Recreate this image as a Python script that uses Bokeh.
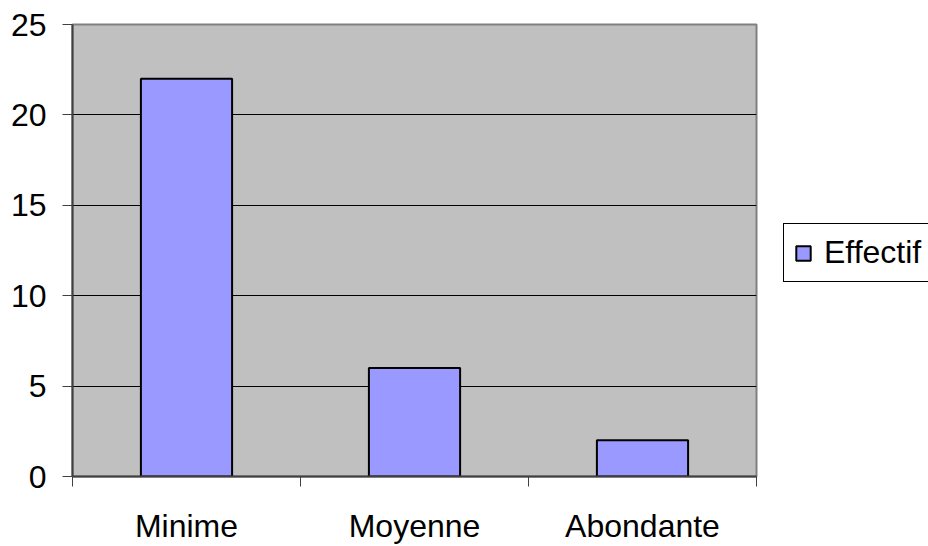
import math

from bokeh.plotting import figure
from bokeh.layouts import row
from bokeh.models import (ColumnDataSource, Range1d, FixedTicker, Legend, LegendItem)
from bokeh.embed import file_html
from bokeh.resources import INLINE

# Data
categories = ["Minime", "Moyenne", "Abondante"]
effectif = [22, 6, 2]
y_ticks = [0, 5, 10, 15, 20, 25]
series_name = "Effectif"

FONT = "Liberation Sans"
FONT_SIZE = "32px"
BAR_FILL = "#9999FF"

# category i sits in the slot [i, i+1]; bars are centred in their slot
centres = [i + 0.5 for i in range(len(categories))]
source = ColumnDataSource(dict(x=centres, top=effectif, cat=categories))

p = figure(width=772, height=546, output_backend="svg", toolbar_location=None,
           x_range=Range1d(0, len(categories)), y_range=Range1d(0, 25))
p.min_border_left = 72
p.min_border_right = 16
p.min_border_top = 24
p.min_border_bottom = 68
p.border_fill_color = "white"
p.background_fill_color = "#C0C0C0"
p.outline_line_color = "#808080"
p.outline_line_width = 2

bars = p.vbar(x="x", top="top", width=0.4, source=source,
              fill_color=BAR_FILL, line_color="black", line_width=2)

# Y axis
p.yaxis.ticker = FixedTicker(ticks=y_ticks)
p.yaxis.axis_line_color = "#404040"
p.yaxis.axis_line_width = 2
p.yaxis.major_tick_line_color = "#404040"
p.yaxis.major_tick_out = 10
p.yaxis.major_tick_in = 0
p.yaxis.minor_tick_line_color = None
p.yaxis.major_label_text_font = FONT
p.yaxis.major_label_text_font_size = FONT_SIZE
p.yaxis.major_label_text_color = "black"
p.yaxis.major_label_standoff = 16

# X axis: labels at slot centres, tick marks at slot boundaries
p.xaxis.ticker = FixedTicker(ticks=centres,
                             minor_ticks=list(range(len(categories) + 1)))
p.xaxis.major_label_overrides = {c: lab for c, lab in zip(centres, categories)}
p.xaxis.axis_line_color = "#404040"
p.xaxis.axis_line_width = 2
p.xaxis.major_tick_line_color = None
p.xaxis.minor_tick_line_color = "#404040"
p.xaxis.minor_tick_out = 10
p.xaxis.minor_tick_in = 0
p.xaxis.major_label_text_font = FONT
p.xaxis.major_label_text_font_size = FONT_SIZE
p.xaxis.major_label_text_color = "black"
p.xaxis.major_label_standoff = 21

# Grid
p.xgrid.grid_line_color = None
p.ygrid.ticker = FixedTicker(ticks=[t for t in y_ticks if 0 < t < 25])
p.ygrid.grid_line_color = "black"
p.ygrid.grid_line_width = 1

# Legend panel to the right of the chart. Its renderer only supplies the
# legend swatch: a single undefined (NaN) row, so no bar is drawn there.
lp = figure(width=156, height=546, output_backend="svg", toolbar_location=None,
            title=None, x_range=Range1d(0, 1), y_range=Range1d(0, 1),
            x_axis_location=None, y_axis_location=None)
lp.min_border = 0
lp.outline_line_color = None
lp.xgrid.grid_line_color = None
lp.ygrid.grid_line_color = None
lp.background_fill_color = "white"
lp.border_fill_color = "white"
swatch_source = ColumnDataSource(dict(x=[math.nan], top=[math.nan]))
swatch = lp.vbar(x="x", top="top", width=0.4, source=swatch_source,
                 fill_color=BAR_FILL, line_color="black", line_width=2)

legend = Legend(items=[LegendItem(label=series_name, renderers=[swatch])],
                location=(11, 194), margin=0, padding=10, spacing=0,
                glyph_width=18, glyph_height=18, label_height=28,
                label_standoff=12,
                label_text_font=FONT, label_text_font_size=FONT_SIZE,
                label_text_color="black",
                border_line_color="black", border_line_width=1, border_line_alpha=1,
                background_fill_color="white", background_fill_alpha=1)
lp.add_layout(legend, "center")

layout = row(p, lp, spacing=0)
open("out.html", "w").write(file_html(layout, INLINE))
